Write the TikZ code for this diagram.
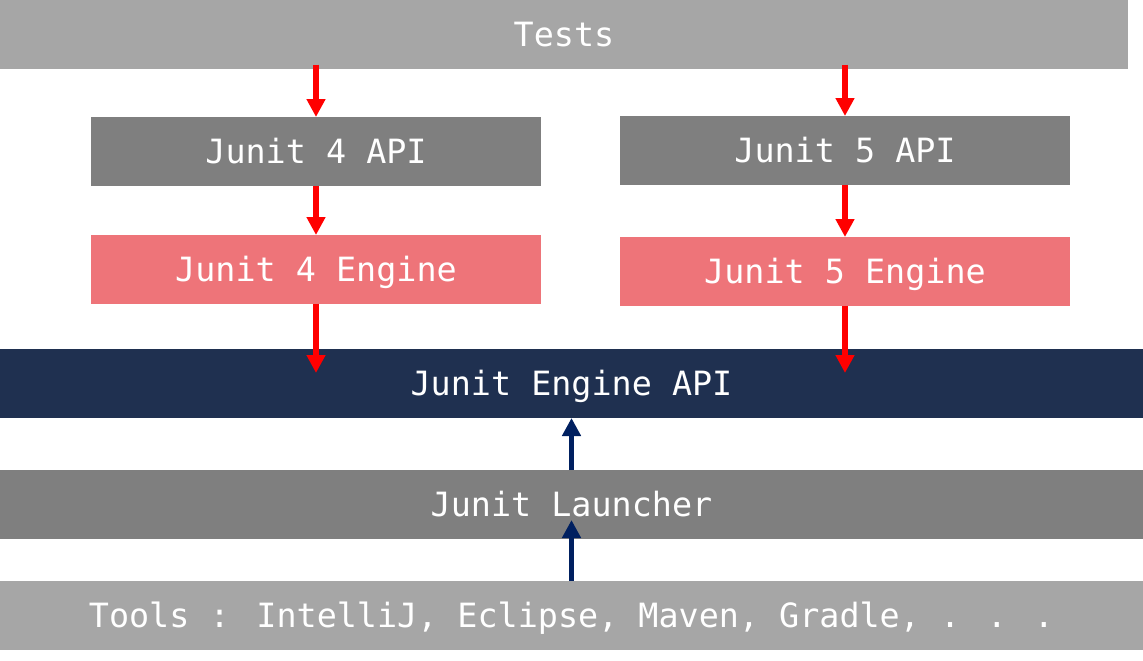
\documentclass[tikz,border=0pt]{standalone}
\usepackage{fontspec}
\newfontfamily\diagfont{DejaVu Sans Mono}
\usetikzlibrary{arrows.meta,positioning}
\definecolor{lightbar}{HTML}{A6A6A6}
\definecolor{midbar}{HTML}{7F7F7F}
\definecolor{enginepink}{HTML}{EE7479}
\definecolor{navybar}{HTML}{1F3050}
\definecolor{navyarrow}{HTML}{002060}
\definecolor{redarrow}{HTML}{FF0000}
\tikzset{
  bar/.style={rectangle, inner sep=0pt, outer sep=0pt, text=white,
    font=\diagfont\fontsize{33.4}{40}\selectfont, text height=24.3pt, text depth=0pt,
    anchor=north west},
  redconn/.style={draw=redarrow, line width=5.5pt, -{Triangle[length=18pt,width=18pt]}},
  navyconn/.style={draw=navyarrow, line width=5.5pt, -{Triangle[length=18pt,width=18pt]}}
}
\begin{document}
\begin{tikzpicture}[x=1pt,y=-1pt]
\useasboundingbox (0,0) rectangle (1143,661);
\fill[white] (0,0) rectangle (1143,661);
\node[bar, fill=lightbar, minimum width=1128pt, minimum height=68.7pt] (tests) at (0,0) {Tests};
\node[bar, fill=midbar, minimum width=450pt, minimum height=68.7pt] (api4) at (91,117) {Junit 4 API};
\node[bar, fill=midbar, minimum width=450pt, minimum height=68.7pt] (api5) at (620,116) {Junit 5 API};
\node[bar, fill=enginepink, minimum width=450pt, minimum height=68.7pt] (eng4) at (91,235) {Junit 4 Engine};
\node[bar, fill=enginepink, minimum width=450pt, minimum height=68.7pt] (eng5) at (620,237) {Junit 5 Engine};
\node[bar, fill=navybar, minimum width=1143pt, minimum height=69pt] (engapi) at (0,349) {Junit Engine API};
\node[bar, fill=midbar, minimum width=1143pt, minimum height=69pt] (launcher) at (0,470) {Junit Launcher};
\node[bar, fill=lightbar, minimum width=1143pt, minimum height=69pt] (tools) at (0,581) {Tools : IntelliJ, Eclipse, Maven, Gradle, . . .};
\draw[redconn] ([yshift=4pt]api4.north |- tests.south) -- (api4.north);
\draw[redconn] ([yshift=4pt]api5.north |- tests.south) -- (api5.north);
\draw[redconn] (api4.south) -- (eng4.north);
\draw[redconn] (api5.south) -- (eng5.north);
\draw[redconn] (eng4.south) -- ([yshift=-24pt]eng4.south |- engapi.north);
\draw[redconn] (eng5.south) -- ([yshift=-24pt]eng5.south |- engapi.north);
\draw[navyconn] (launcher.north) -- (engapi.south);
\draw[navyconn] (tools.north) -- ([yshift=19pt]launcher.south);
\end{tikzpicture}
\end{document}
